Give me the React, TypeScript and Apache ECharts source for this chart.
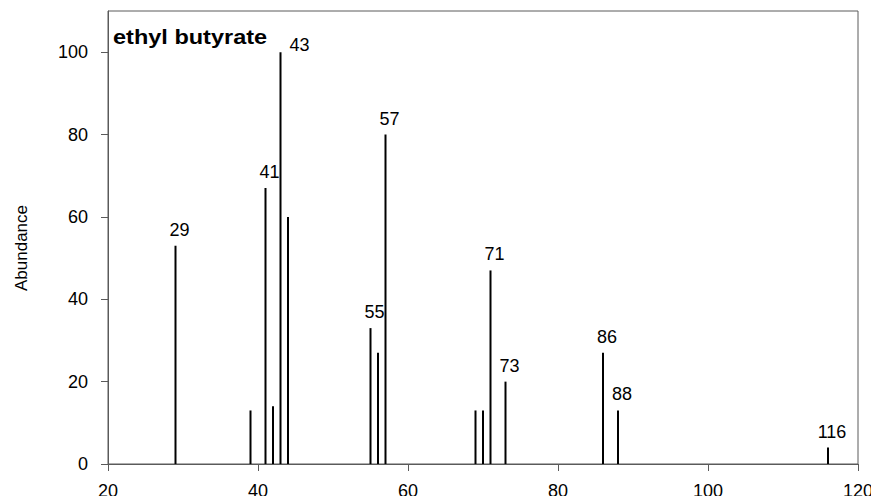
import React, { useEffect, useRef } from "react";
import * as echarts from "echarts";

// Mass spectrum of ethyl butyrate: m/z and relative abundance
const massToCharge = [29, 39, 41, 42, 43, 44, 55, 56, 57, 69, 70, 71, 73, 86, 88, 116];
const abundance = [53, 13, 67, 14, 100, 60, 33, 27, 80, 13, 13, 47, 20, 27, 13, 4];
const labelledPeaks = [29, 41, 43, 55, 57, 71, 73, 86, 88, 116];
const xTicks = [20, 40, 60, 80, 100, 120];
const yTicks = [0, 20, 40, 60, 80, 100];
const compoundName = "ethyl butyrate";
const yAxisTitle = "Abundance";

const FONT = "'Liberation Sans', Arial, sans-serif";
const AXIS_COLOR = "#5a5a5a";
const LABEL_SIZE = 18;

export default function App() {
  const ref = useRef<HTMLDivElement>(null);

  useEffect(() => {
    if (!ref.current) return;
    const chart = echarts.init(ref.current, null, { renderer: "svg" });

    const data = massToCharge.map((mz, i) => {
      const labelled = labelledPeaks.includes(mz);
      const item: any = {
        value: [mz, abundance[i]],
        label: { show: labelled },
      };
      // base peak label sits to the right of its line
      if (mz === 43) {
        item.label = { show: true, offset: [19, 9] };
      }
      return item;
    });

    chart.setOption({
      animation: false,
      textStyle: { fontFamily: FONT },
      grid: {
        left: 108,
        right: 21,
        top: 11,
        bottom: 40,
        outerBoundsMode: "none",
        show: true,
        borderColor: AXIS_COLOR,
        borderWidth: 1,
        backgroundColor: "transparent",
      },
      graphic: [
        {
          type: "text",
          x: 113,
          y: 26,
          scaleX: 1.12,
          style: {
            text: compoundName,
            fontFamily: FONT,
            fontWeight: "bold",
            fontSize: 21,
            fill: "#000",
            align: "left",
            verticalAlign: "top",
          },
        },
        {
          type: "text",
          x: 21,
          y: 248,
          rotation: Math.PI / 2,
          style: {
            text: yAxisTitle,
            fontFamily: FONT,
            fontSize: 17,
            fill: "#000",
            align: "center",
            verticalAlign: "middle",
          },
        },
      ],
      xAxis: {
        type: "value",
        min: 20,
        max: 120,
        interval: 20,
        splitLine: { show: false },
        axisLine: { show: true, onZero: false, lineStyle: { color: AXIS_COLOR, width: 1 } },
        axisTick: {
          show: true,
          length: 7,
          inside: false,
          customValues: xTicks,
          lineStyle: { color: AXIS_COLOR },
        },
        axisLabel: {
          customValues: xTicks,
          margin: 18,
          fontSize: LABEL_SIZE,
          color: "#000",
          fontFamily: FONT,
        },
      },
      yAxis: {
        type: "value",
        min: 0,
        max: 110,
        splitLine: { show: false },
        axisLine: { show: true, lineStyle: { color: AXIS_COLOR, width: 1 } },
        axisTick: {
          show: true,
          length: 7,
          customValues: yTicks,
          lineStyle: { color: AXIS_COLOR },
        },
        axisLabel: {
          customValues: yTicks,
          margin: 20,
          fontSize: LABEL_SIZE,
          color: "#000",
          fontFamily: FONT,
        },
      },
      series: [
        {
          type: "bar",
          data,
          barWidth: 2,
          itemStyle: { color: "#000" },
          label: {
            position: "top",
            distance: 7,
            offset: [4, 0],
            fontSize: LABEL_SIZE,
            color: "#000",
            fontFamily: FONT,
            formatter: (p: any) => String(p.value[0]),
          },
        },
      ],
    });

    return () => chart.dispose();
  }, []);

  // the chart fills the whole window, so it cancels the page's default margin
  return <div ref={ref} style={{ width: 879, height: 504, margin: -8 }} />;
}
